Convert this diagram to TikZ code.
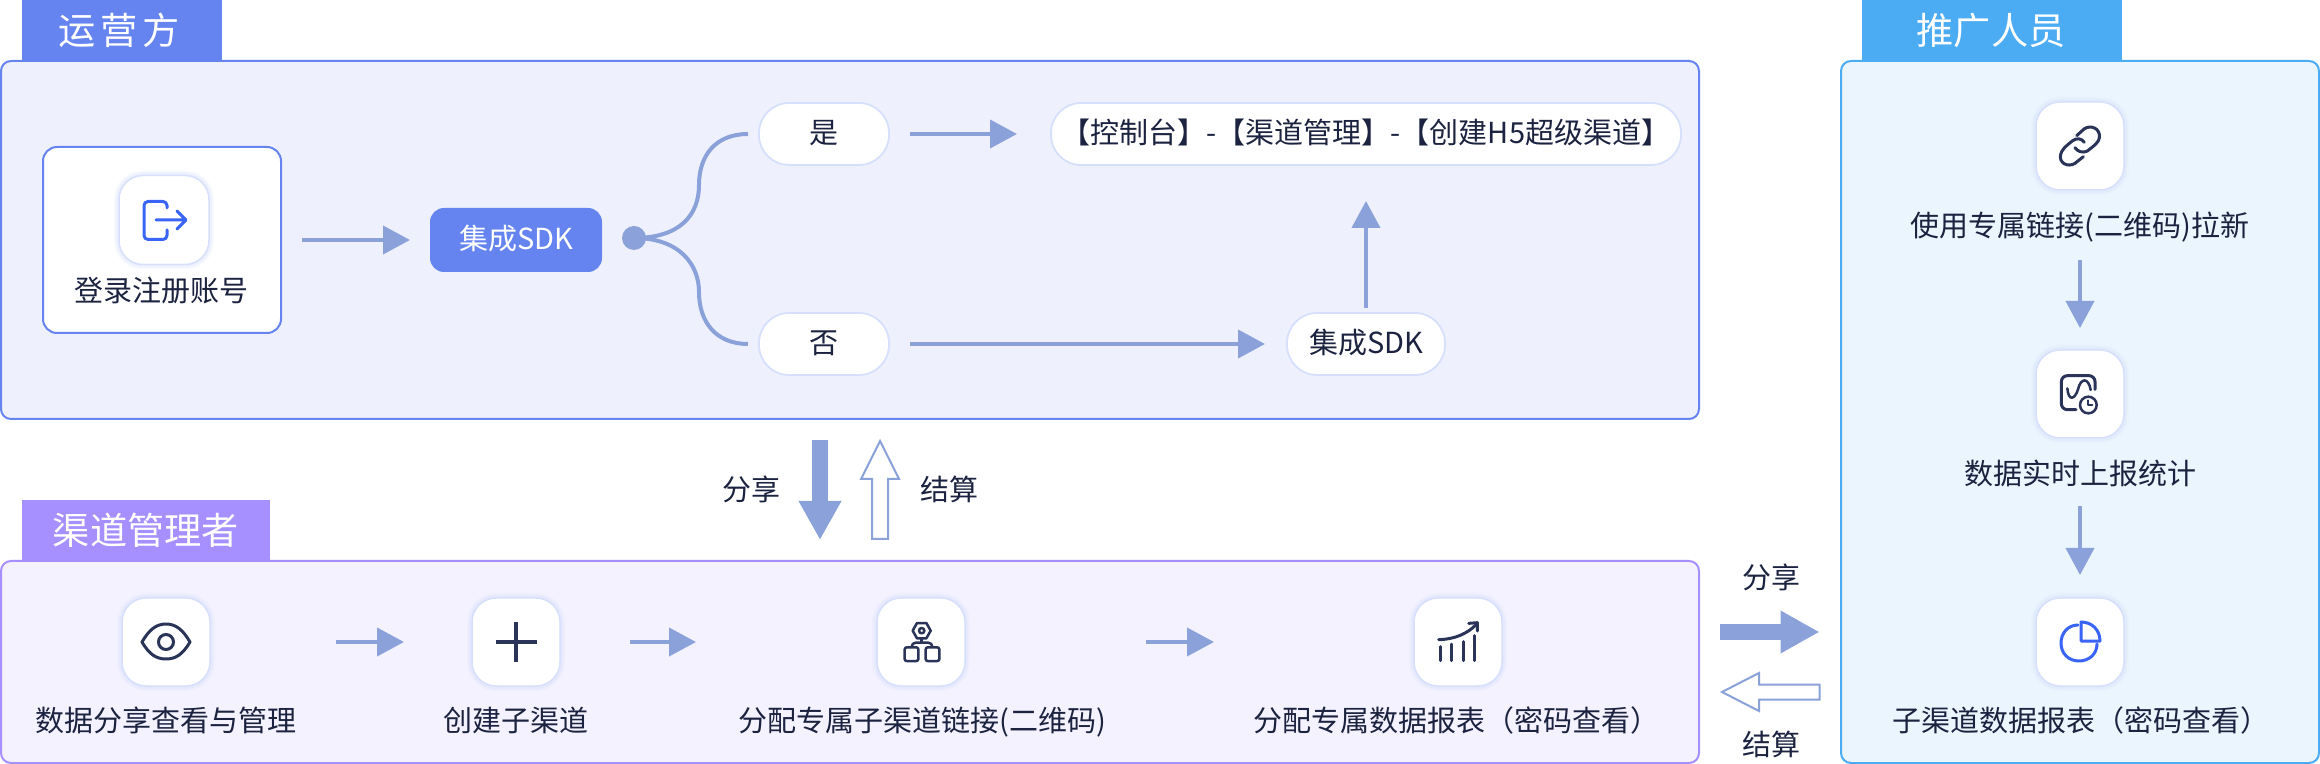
\documentclass[tikz,border=0pt]{standalone}
\usepackage{fontspec}
\setmainfont{Noto Sans CJK SC}
\usetikzlibrary{arrows.meta}
\definecolor{opc}{HTML}{6584F0}
\definecolor{opbg}{HTML}{EEF1FD}
\definecolor{chc}{HTML}{A68FFF}
\definecolor{chbg}{HTML}{F4F2FF}
\definecolor{prc}{HTML}{4BABF3}
\definecolor{prbg}{HTML}{EAF5FE}
\definecolor{flowc}{HTML}{8AA1DA}
\definecolor{txtc}{HTML}{1C2340}
\definecolor{icond}{HTML}{2A3358}
\definecolor{iconb}{HTML}{3A64F5}
\definecolor{edgec}{HTML}{D6E0FC}
\def\pxu{0.5pt}
\tikzset{
  sz/.style 2 args={minimum width=#1*\pxu,minimum height=#2*\pxu},
  base/.style={inner sep=0pt,outer sep=0pt},
  panel/.style={base,draw=#1,line width=1pt,rounded corners=5pt},
  tab/.style={base,fill=#1,text=white,font=\fontsize{18.6}{20}\selectfont},
  tile/.style={base,fill=white,draw=edgec,line width=0.75pt,rounded corners=12pt,
    preaction={draw=edgec,line width=5pt,draw opacity=.18},
    preaction={draw=edgec,line width=3pt,draw opacity=.3},
    sz={88}{88}},
  pill/.style={base,fill=white,draw=edgec,line width=0.9pt,rounded corners=15pt,text=txtc,
    font=\fontsize{14.5}{16}\selectfont,text height=12.2pt,text depth=2.3pt},
  lab/.style={base,text=txtc,font=\fontsize{14.5}{16}\selectfont,text height=12.2pt,text depth=2.3pt},
  flow/.style={draw=flowc,line width=2pt,-{Triangle[length=13.5pt,width=14pt]}},
  branch/.style={draw=flowc,line width=2pt},
  blockarrow/.style={draw=flowc,line width=8pt,-{Triangle[length=19.5pt,width=20pt]}},
  hollowarrow/.style={draw=flowc,line width=1pt,fill=white,line join=miter},
  icd/.style={draw=icond,line width=1.5pt,line cap=round,line join=round},
  icb/.style={draw=iconb,line width=1.5pt,line cap=round,line join=round},
}
\begin{document}
\begin{tikzpicture}[x=0.5pt,y=-0.5pt]
\useasboundingbox (0,0) rectangle (2320,764);

% panels
\node[panel=opc,fill=opbg,sz={1698}{358}] (p1) at (850,240) {};
\node[tab=opc,sz={200}{61}] (t1) at (122,30.5) {};
\node[base,text=white,font=\fontsize{18.6}{20}\selectfont] (t1l) at (119,30) {运\hspace{2.6pt}营\hspace{2.6pt}方};
\node[panel=chc,fill=chbg,sz={1698}{202}] (p2) at (850,662) {};
\node[tab=chc,sz={248}{61}] (t2) at (146,530.5) {渠道管理者};
\node[panel=prc,fill=prbg,sz={478}{702}] (p3) at (2080,412) {};
\node[tab=prc,sz={260}{61}] (t3) at (1992,30.5) {};
\node[base,text=white,font=\fontsize{18.6}{20}\selectfont] (t3l) at (1991,30.5) {推广人员};

% operator panel
\node[base,fill=white,draw=opc,line width=1pt,rounded corners=7pt,sz={238}{186}] (login) at (162,240) {};
\node[tile,sz={90}{89}] (ti0) at (164,220) {};
\node[lab] (l0) at (162,292) {登录注册账号};
\node[base,fill=opc,rounded corners=7pt,sz={172}{64},text=white,font=\fontsize{14.5}{16}\selectfont,text height=12.2pt,text depth=2.3pt] (sdk) at (516,240) {集成SDK};
\node[circle,base,fill=flowc,minimum size=12pt] (dot) at (634,238) {};
\node[pill,sz={130}{62}] (yes) at (824,134) {是};
\node[pill,sz={130}{62}] (no) at (824,344) {否};
\node[pill,sz={630}{62}] (console) at (1366,134) {【控制台】-【渠道管理】-【创建H5超级渠道】};
\node[pill,sz={158}{62}] (sdk2) at (1366,344) {集成SDK};

\draw[flow,shorten <=10.5pt,shorten >=10pt] (login) -- (sdk);
\draw[branch,shorten >=5.5pt] (dot.center) .. controls (680,238) and (699,215) .. (699,185) .. controls (699,155) and (716,134) .. (yes.west);
\draw[branch,shorten >=5.5pt] (dot.center) .. controls (680,238) and (699,265) .. (699,292) .. controls (699,322) and (716,344) .. (no.west);
\draw[flow,shorten <=10.5pt,shorten >=17pt] (yes) -- (console);
\draw[flow,shorten <=10.5pt,shorten >=11pt] (no) -- (sdk2);
\draw[flow,shorten <=2.5pt,shorten >=18pt] (sdk2) -- (console);

% login icon
\draw[icb] (167,208) -- (167,205) [rounded corners=2pt] -- (167,201.5) -- (144,201.5) -- (144,239.5) -- (167,239.5) -- (167,230);
\draw[icb] (156,220) -- (185,220) (177,211) -- (186,220) -- (177,229);

% middle exchange
\coordinate (downA) at (820,440);
\coordinate (downB) at (820,540);
\draw[blockarrow] (downA) -- (downB);
\coordinate (upA) at (880,539);
\draw[hollowarrow] (upA) ++(-8,0) -- ++(0,-60) -- ++(-11,0) -- (880,441) -- (899,479) -- (888,479) -- (888,539) -- cycle;
\node[lab] (share1) at (751,491) {分享};
\node[lab] (settle1) at (949,491) {结算};

% channel panel
\node[tile] (ti1) at (166,642) {};
\node[tile] (ti2) at (516,642) {};
\node[tile] (ti3) at (921,642) {};
\node[tile] (ti4) at (1458,642) {};
\node[lab] (l1) at (166,722) {数据分享查看与管理};
\node[lab] (l2) at (516,722) {创建子渠道};
\node[lab] (l3) at (922,722) {分配专属子渠道链接(二维码)};
\node[lab] (l4) at (1456,722) {分配专属数据报表（密码查看）};
\draw[flow,shorten <=63pt,shorten >=34pt] (ti1) -- (ti2);
\draw[flow,shorten <=35pt,shorten >=90.5pt] (ti2) -- (ti3);
\draw[flow,shorten <=90.5pt,shorten >=100pt] (ti3) -- (ti4);

% eye icon
\draw[icd] (142,642) .. controls (149,630) and (156,624) .. (166,624) .. controls (176,624) and (183,630) .. (190,642) .. controls (183,654) and (176,659) .. (166,659) .. controls (156,659) and (149,654) .. (142,642) -- cycle;
\draw[icd] (166,642) circle (7.5);
% plus icon
\draw[draw=icond,line width=2pt] (496,642) -- (537,642) (516,622) -- (516,662);
% org icon
\begin{scope}[shift={(870,595)},x=0.1667pt,y=-0.1667pt]
\draw[icd,line width=1.25pt] (128,107) -- (141,84) -- (169,84) -- (182,107) -- (169,130) -- (141,130) -- cycle;
\draw[icd,line width=1.25pt] (155,107) circle (8);
\draw[icd,line width=1.25pt] (155,132) -- (155,143);
\draw[icd,line width=1.25pt,rounded corners=2pt] (125,155) -- (125,143) -- (187,143) -- (187,155);
\draw[icd,line width=1.25pt,rounded corners=1pt] (104,157) rectangle (145,198);
\draw[icd,line width=1.25pt,rounded corners=1pt] (167,157) rectangle (208,198);
\end{scope}
% chart icon
\begin{scope}[shift={(1408,595)},x=0.1667pt,y=-0.1667pt]
\draw[icd] (98,197) -- (98,155) (131,197) -- (131,147) (165,197) -- (165,140) (198,197) -- (198,122);
\draw[icd] (92,134) .. controls (140,133) and (180,115) .. (205,88);
\draw[icd] (182,85) -- (208,83) -- (208,108);
\end{scope}

% right exchange
\coordinate (rA) at (1720,632);
\coordinate (rB) at (1819.5,632);
\draw[blockarrow] (rA) -- (rB);
\coordinate (lA) at (1819.5,692);
\draw[hollowarrow] (lA) ++(0,-7.5) -- ++(-60.5,0) -- ++(0,-11.5) -- (1722,692) -- (1759,711) -- (1759,699.5) -- (1819.5,699.5) -- cycle;
\node[lab] (share2) at (1771,579) {分享};
\node[lab] (settle2) at (1771,746) {结算};

% promoter panel
\node[tile] (ti5) at (2080,146) {};
\node[tile] (ti6) at (2080,394) {};
\node[tile] (ti7) at (2080,642) {};
\node[lab] (l5) at (2080,227) {使用专属链接(二维码)拉新};
\node[lab] (l6) at (2080,475) {数据实时上报统计};
\node[lab] (l7) at (2081,722) {子渠道数据报表（密码查看）};
\draw[flow,shorten <=9.5pt,shorten >=11pt] (ti5.south |- l5.south) -- (ti6.north);
\draw[flow,shorten <=8.5pt,shorten >=11.5pt] (ti6.south |- l6.south) -- (ti7.north);

% link icon
\begin{scope}[shift={(2030,95)},x=0.1667pt,y=-0.1667pt]
\draw[icd] (140,122) -- (162,102) .. controls (182,88) and (212,100) .. (208,128) .. controls (206,142) and (195,150) .. (172,168) .. controls (160,175) and (142,170) .. (135,158);
\draw[icd] (160,185) -- (135,205) .. controls (115,218) and (85,205) .. (92,178) .. controls (95,165) and (105,155) .. (128,137) .. controls (140,128) and (155,130) .. (163,142);
\end{scope}
% wave clock icon
\begin{scope}[shift={(2030,345)},x=0.1667pt,y=-0.1667pt]
\draw[icd,rounded corners=3pt] (195,133) -- (195,92) -- (94,92) -- (94,194) -- (138,194);
\draw[icd,line width=1.25pt] (112,130) .. controls (115,170) and (135,165) .. (145,130) .. controls (152,100) and (175,95) .. (182,135);
\draw[icd,line width=1.25pt] (175,180) circle (25);
\draw[icd,line width=1pt] (175,166) -- (175,180) -- (187,180);
\end{scope}
% pie icon
\draw[icb] (2078,625) .. controls (2068,625) and (2061,633) .. (2061,643) .. controls (2061,654) and (2069,661) .. (2079,661) .. controls (2089,661) and (2097,654) .. (2097,644);
\draw[icb] (2081,622) -- (2081,641) -- (2100,641) .. controls (2100,630) and (2092,622) .. (2081,622) -- cycle;
\end{tikzpicture}
\end{document}
